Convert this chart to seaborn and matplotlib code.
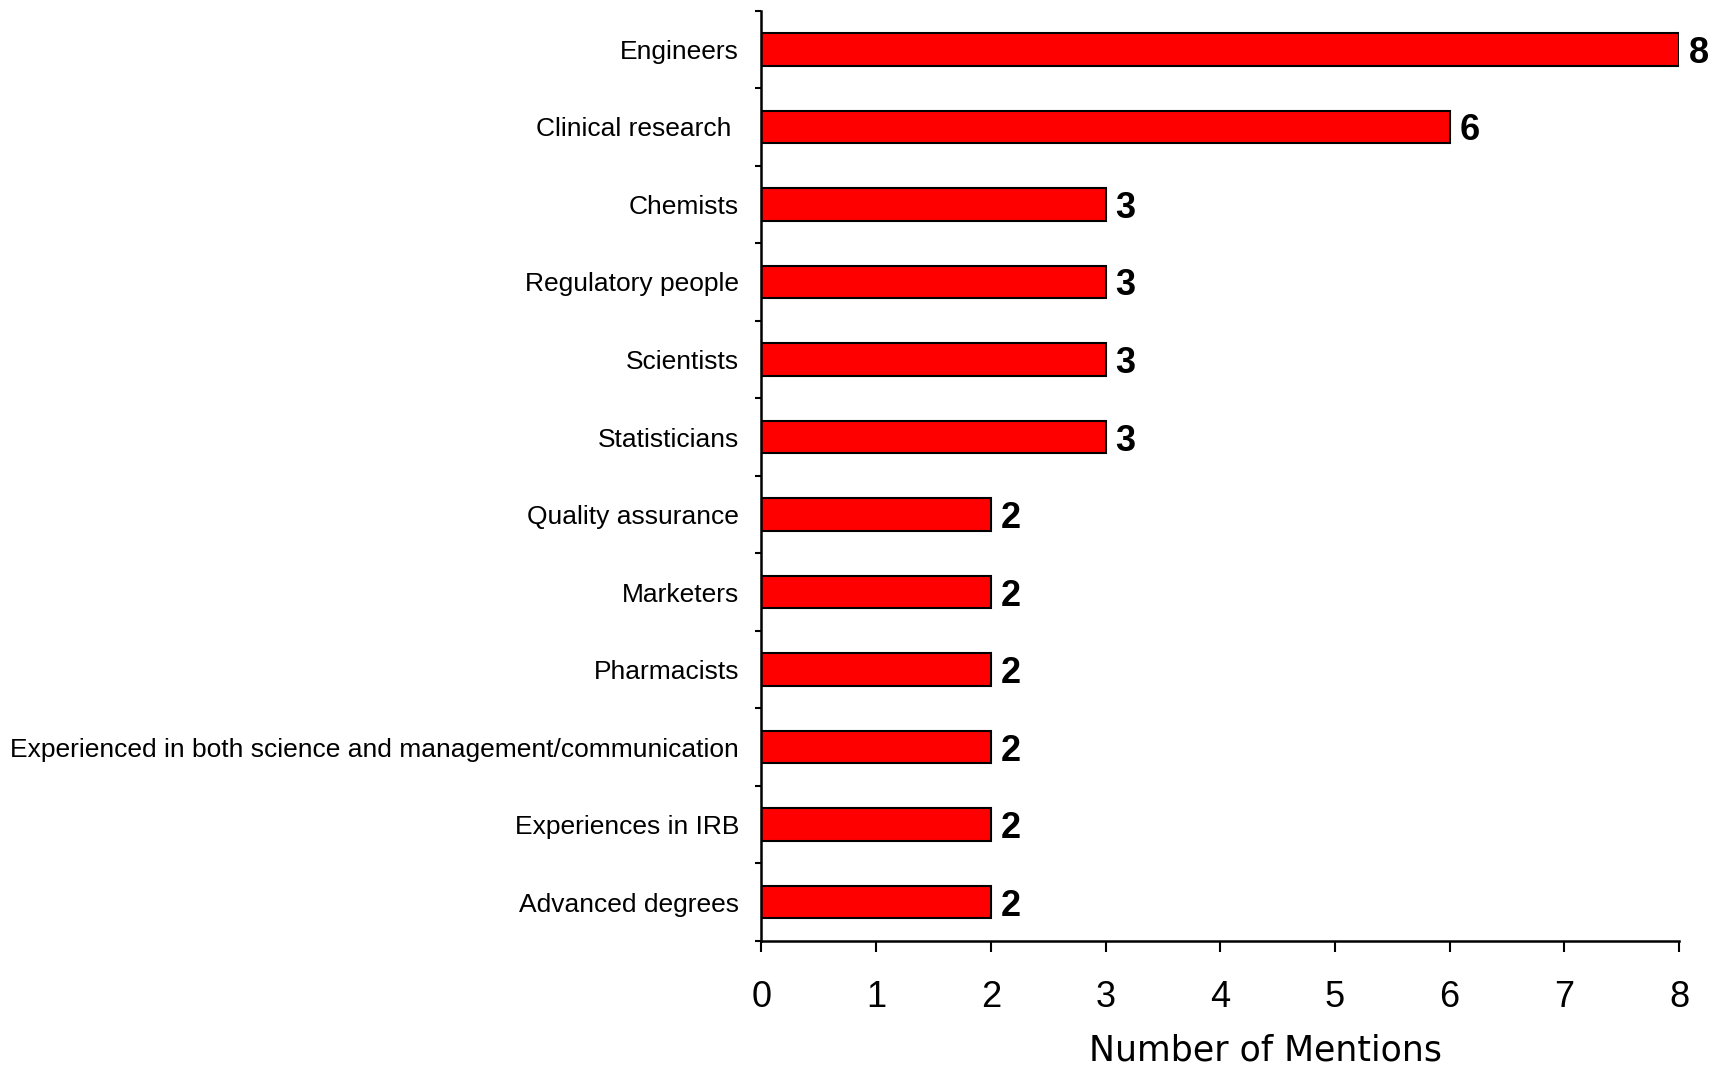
import matplotlib
matplotlib.use("Agg")
import matplotlib.pyplot as plt
import seaborn as sns
import numpy as np

# Data
categories = ["Engineers", "Clinical research ", "Chemists", "Regulatory people",
              "Scientists", "Statisticians", "Quality assurance", "Marketers",
              "Pharmacists", "Experienced in both science and management/communication",
              "Experiences in IRB", "Advanced degrees"]
mentions = [8, 6, 3, 3, 3, 3, 2, 2, 2, 2, 2, 2]
x_ticks = [0, 1, 2, 3, 4, 5, 6, 7, 8]

sns.set_style("ticks")
plt.rcParams['font.family'] = ['Liberation Sans', 'DejaVu Sans']
plt.rcParams['text.color'] = 'black'
plt.rcParams['axes.labelcolor'] = 'black'
plt.rcParams['xtick.color'] = 'black'
plt.rcParams['ytick.color'] = 'black'
plt.rcParams['axes.edgecolor'] = 'black'

fig = plt.figure(figsize=(17.15, 10.68), dpi=100)
ax = fig.add_axes([0.444, 0.119, 0.535, 0.871])

sns.barplot(x=mentions, y=categories, orient='h', color='#ff0000', saturation=1,
            edgecolor='black', linewidth=1.5, width=0.42, ax=ax)

labels = ax.bar_label(ax.containers[0], padding=7, fontsize=26, fontweight='bold',
                      color='black')
for t in labels:
    t.set_va('center_baseline')

ax.set_xlim(0, 8)
ax.set_ylim(len(categories) - 0.5, -0.5)
ax.set_xticks(x_ticks)
ax.set_xticklabels([str(t) for t in x_ticks], fontsize=26)
ax.tick_params(axis='x', direction='out', length=8, width=1.5, pad=20)

# category labels without ticks, ticks sit between categories
ax.tick_params(axis='y', which='major', length=0, pad=16, labelsize=19)
ax.set_yticks(np.arange(-0.5, len(categories)), minor=True)
ax.tick_params(axis='y', which='minor', direction='out', length=4, width=1.5)

ax.set_xlabel("Number of Mentions", fontsize=25, family='DejaVu Sans')
ax.xaxis.set_label_coords(0.549, -0.100)
ax.set_ylabel("")

sns.despine(ax=ax)
for s in ['left', 'bottom']:
    ax.spines[s].set_linewidth(1.8)

fig.savefig("out.png", dpi=100)
